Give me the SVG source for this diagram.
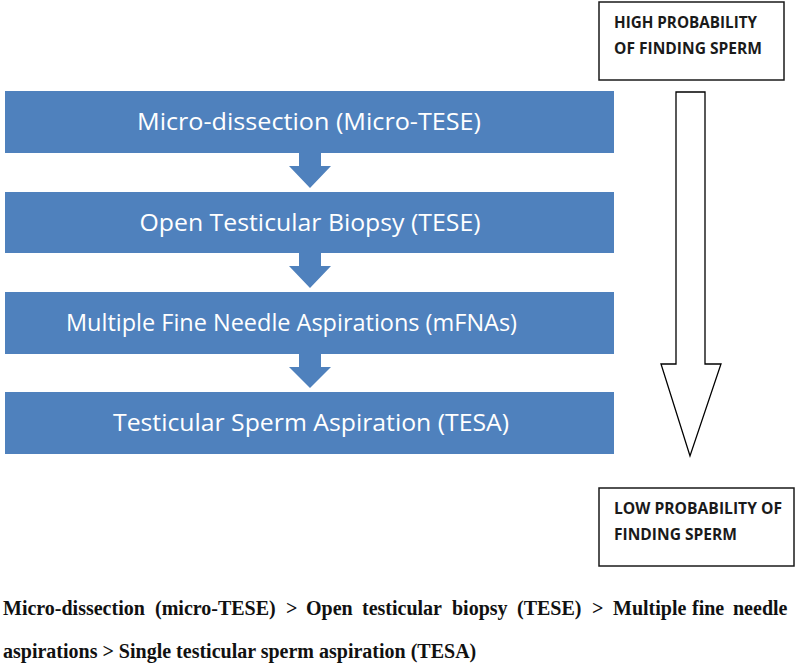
<svg xmlns="http://www.w3.org/2000/svg" width="797" height="666" viewBox="0 0 797 666">
<defs>
<style>
.step{fill:#4F81BD;}
.steptxt{font-family:"Open Sans","Noto Sans",sans-serif;font-size:23.5px;fill:#FFFFFF;text-anchor:middle;}
.lbl{fill:#FFFFFF;stroke:#1a1a1a;stroke-width:1.5;}
.lbltxt{font-family:"Open Sans","Noto Sans",sans-serif;font-weight:bold;font-size:15.5px;fill:#1a1a1a;}
.arrow{fill:#4F81BD;}
.big{fill:#FFFFFF;stroke:#000000;stroke-width:1.3;stroke-linejoin:miter;}
.cap{font-family:"Liberation Serif","Times New Roman",serif;font-weight:bold;font-size:20px;fill:#111111;}
</style>
</defs>
<rect width="797" height="666" fill="#FFFFFF"/>

<g id="step1">
<rect class="step" x="5" y="91" width="609" height="62"/>
<text class="steptxt" x="309" y="129.5" textLength="344" lengthAdjust="spacingAndGlyphs">Micro-dissection (Micro-TESE)</text>
</g>
<g id="step2">
<rect class="step" x="5" y="192" width="609" height="61"/>
<text class="steptxt" x="310" y="230.5" textLength="341" lengthAdjust="spacingAndGlyphs">Open Testicular Biopsy (TESE)</text>
</g>
<g id="step3">
<rect class="step" x="5" y="292" width="609" height="62"/>
<text class="steptxt" x="291.5" y="330.5" textLength="451" lengthAdjust="spacingAndGlyphs">Multiple Fine Needle Aspirations (mFNAs)</text>
</g>
<g id="step4">
<rect class="step" x="5" y="392" width="609" height="62"/>
<text class="steptxt" x="311" y="430.5" textLength="396" lengthAdjust="spacingAndGlyphs">Testicular Sperm Aspiration (TESA)</text>
</g>

<g id="high">
<rect class="lbl" x="599" y="2" width="185" height="78"/>
<text class="lbltxt" x="614" y="27.5" textLength="143" lengthAdjust="spacingAndGlyphs">HIGH PROBABILITY</text>
<text class="lbltxt" x="614" y="53.5" textLength="148" lengthAdjust="spacingAndGlyphs">OF FINDING SPERM</text>
</g>
<g id="low">
<rect class="lbl" x="599" y="488" width="195" height="78"/>
<text class="lbltxt" x="614" y="513.5" textLength="168" lengthAdjust="spacingAndGlyphs">LOW PROBABILITY OF</text>
<text class="lbltxt" x="614" y="539.5" textLength="123" lengthAdjust="spacingAndGlyphs">FINDING SPERM</text>
</g>

<g id="connectors">
<polygon class="arrow" points="299,153 321,153 321,166 331,166 310,188 289,166 299,166"/>
<polygon class="arrow" points="299,253 321,253 321,266 331,266 310,288 289,266 299,266"/>
<polygon class="arrow" points="299,354 321,354 321,367 331,367 310,388 289,367 299,367"/>
<polygon class="big" points="676,92 705,92 705,364 721,364 690,456 661,364 676,364"/>
</g>

<g id="caption">
<text class="cap" y="615"><tspan x="3">Micro-dissection</tspan><tspan x="155">(micro-TESE)</tspan><tspan x="286">&gt;</tspan><tspan x="306">Open</tspan><tspan x="362">testicular</tspan><tspan x="452">biopsy</tspan><tspan x="517">(TESE)</tspan><tspan x="592">&gt;</tspan><tspan x="613">Multiple</tspan><tspan x="692">fine</tspan><tspan x="733">needle</tspan></text>
<text class="cap" x="3" y="658">aspirations &gt; Single testicular sperm aspiration (TESA)</text>
</g>
</svg>
